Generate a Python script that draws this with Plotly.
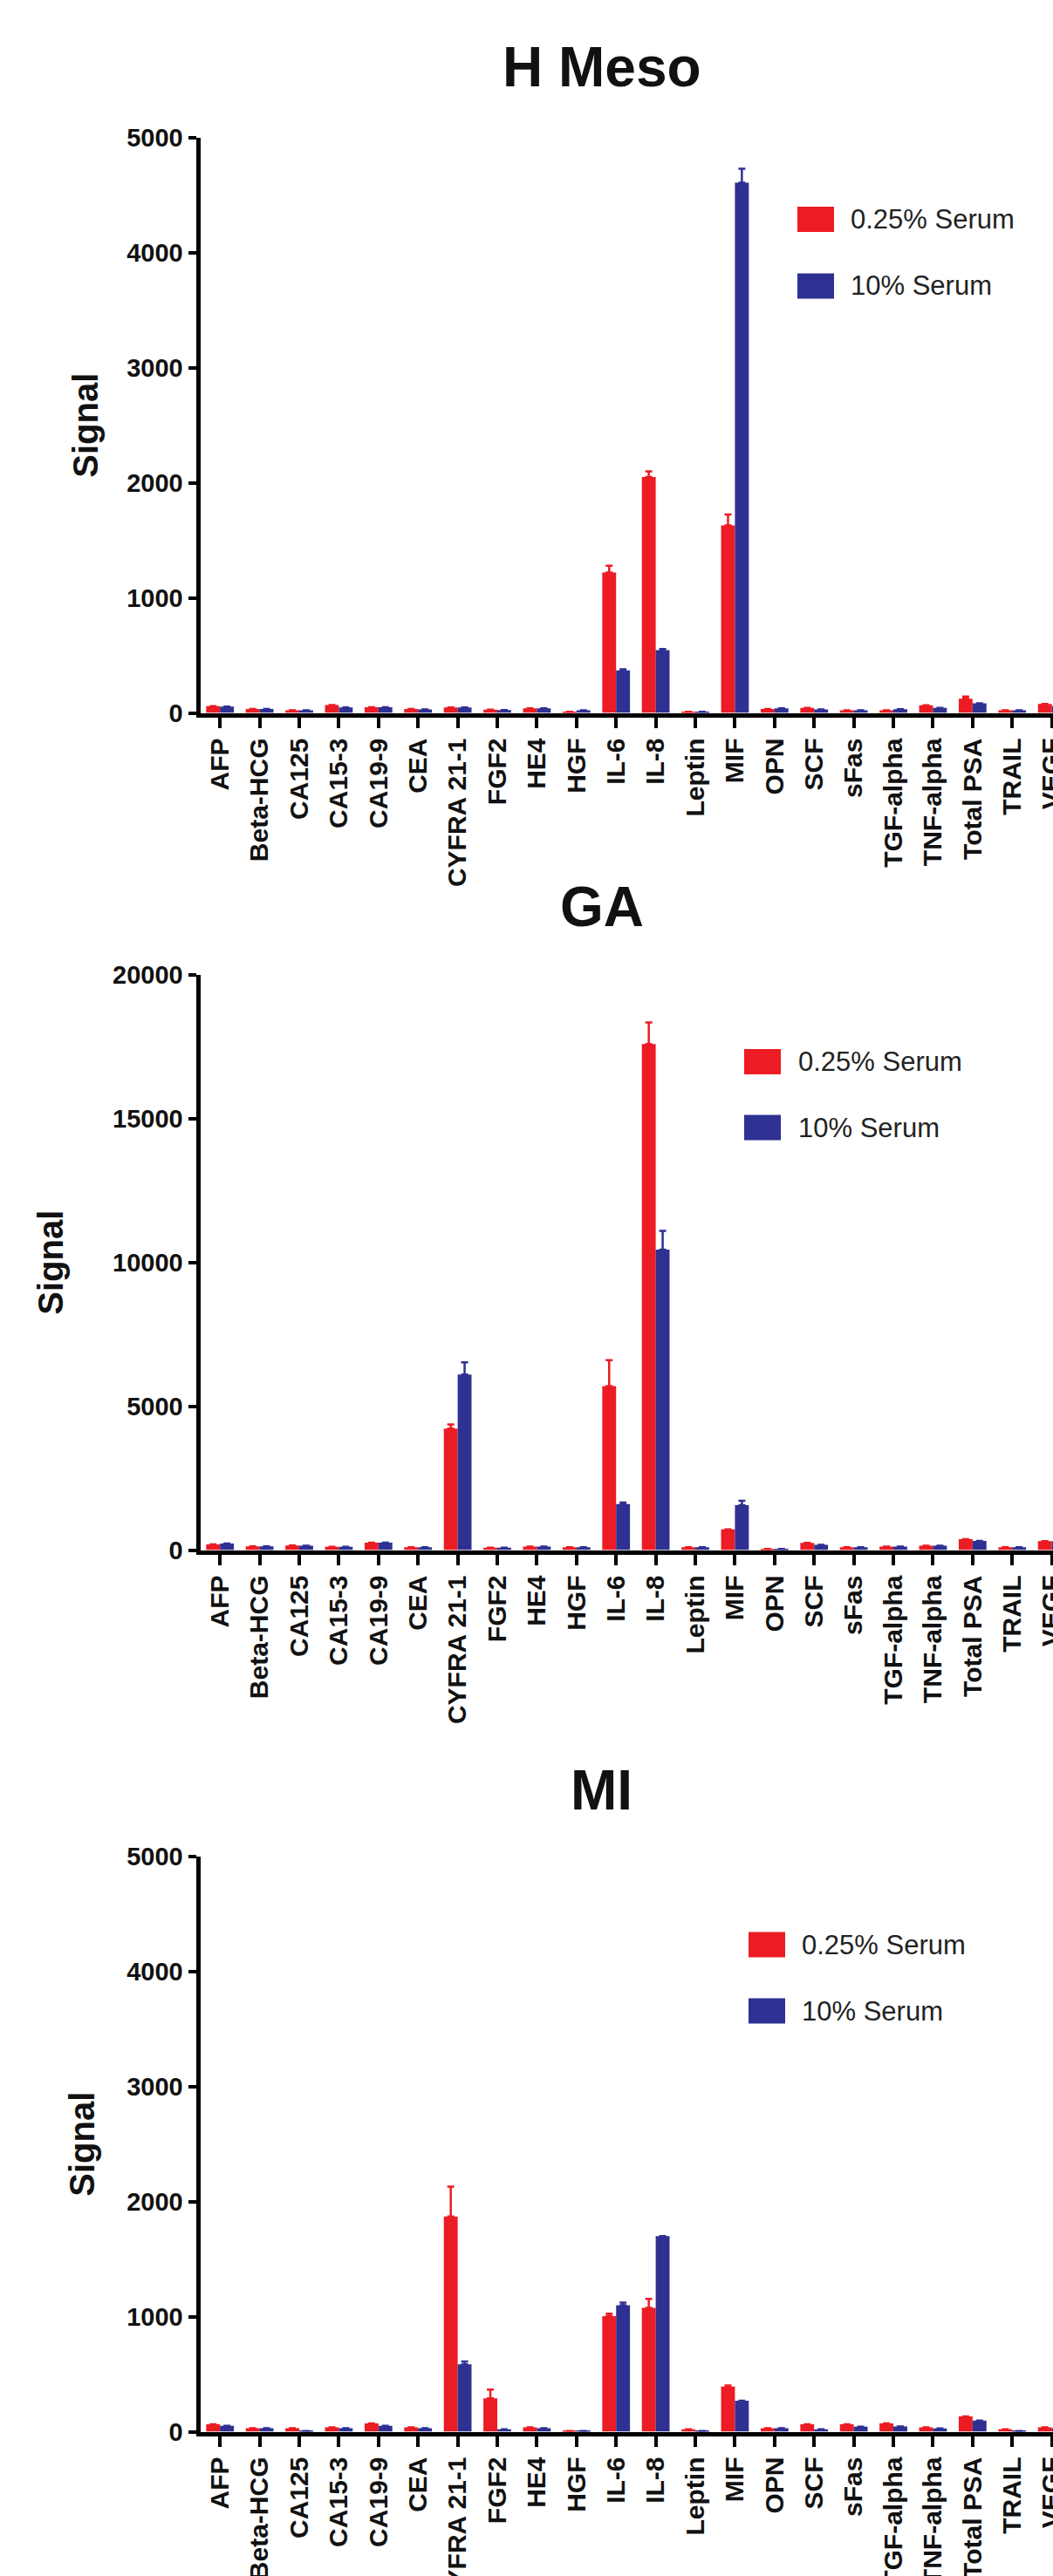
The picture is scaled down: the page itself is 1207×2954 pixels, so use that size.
import plotly.graph_objects as go

W, H = 1207, 2954

categories = ["AFP", "Beta-HCG", "CA125", "CA15-3", "CA19-9", "CEA", "CYFRA 21-1", "FGF2",
              "HE4", "HGF", "IL-6", "IL-8", "Leptin", "MIF", "OPN", "SCF", "sFas",
              "TGF-alpha", "TNF-alpha", "Total PSA", "TRAIL", "VEGF"]

series_names = ["0.25% Serum", "10% Serum"]

# H Meso
hmeso_low = [58, 35, 23, 68, 50, 35, 48, 29, 40, 10, 1220, 2050, 9, 1630, 35, 43, 23, 23, 66, 124, 23, 78]
hmeso_low_err = [0, 0, 0, 0, 0, 0, 0, 0, 0, 0, 60, 50, 0, 95, 0, 0, 0, 0, 0, 18, 0, 0]
hmeso_high = [55, 35, 23, 48, 50, 30, 48, 25, 40, 22, 370, 545, 9, 4610, 40, 30, 23, 32, 43, 84, 23, 60]
hmeso_high_err = [0, 0, 0, 0, 0, 0, 0, 0, 0, 0, 10, 10, 0, 120, 0, 0, 0, 0, 0, 0, 0, 0]

# GA
ga_low = [200, 130, 160, 110, 260, 100, 4220, 80, 120, 100, 5700, 17600, 100, 720, 40, 250, 100, 120, 150, 380, 100, 310]
ga_low_err = [0, 0, 0, 0, 0, 0, 150, 0, 0, 0, 900, 750, 0, 0, 0, 0, 0, 0, 0, 0, 0, 0]
ga_high = [230, 130, 150, 110, 260, 100, 6100, 80, 120, 100, 1600, 10450, 100, 1560, 40, 180, 100, 120, 150, 320, 100, 300]
ga_high_err = [0, 0, 0, 0, 0, 0, 430, 0, 0, 0, 50, 650, 0, 150, 0, 0, 0, 0, 0, 0, 0, 0]

# MI
mi_low = [64, 31, 31, 38, 72, 38, 1870, 290, 38, 5, 1005, 1077, 20, 392, 31, 64, 64, 72, 38, 133, 20, 38]
mi_low_err = [0, 0, 0, 0, 0, 0, 260, 75, 0, 0, 20, 77, 0, 10, 0, 0, 0, 0, 0, 0, 0, 0]
mi_high = [51, 31, 5, 31, 51, 31, 585, 20, 31, 5, 1100, 1700, 5, 270, 31, 20, 44, 46, 28, 97, 5, 30]
mi_high_err = [0, 0, 0, 0, 0, 0, 25, 0, 0, 0, 23, 0, 0, 0, 0, 0, 0, 0, 0, 0, 0, 0]

panel_titles = ["H Meso", "GA", "MI"]
y_ticks_small = [0, 1000, 2000, 3000, 4000, 5000]
y_ticks_large = [0, 5000, 10000, 15000, 20000]

RED = "#EC1C24"
BLUE = "#2E3192"
FONT = "Liberation Sans, Arial, sans-serif"

def px_x(p):
    return p / W

def px_y(p):
    return 1 - p / H

panels = [
    dict(title=panel_titles[0], low=hmeso_low, low_err=hmeso_low_err, high=hmeso_high, high_err=hmeso_high_err,
         ymax=5000, ticks=y_ticks_small, top=158, bottom=817.5, title_y=77, sig_x=98,
         leg_x=914, leg_y1=251.5, leg_y2=328, leg_tx=973),
    dict(title=panel_titles[1], low=ga_low, low_err=ga_low_err, high=ga_high, high_err=ga_high_err,
         ymax=20000, ticks=y_ticks_large, top=1118, bottom=1777.5, title_y=1040, sig_x=58,
         leg_x=853, leg_y1=1217.5, leg_y2=1293, leg_tx=913),
    dict(title=panel_titles[2], low=mi_low, low_err=mi_low_err, high=mi_high, high_err=mi_high_err,
         ymax=5000, ticks=y_ticks_small, top=2129, bottom=2788.5, title_y=2053, sig_x=94,
         leg_x=858, leg_y1=2230, leg_y2=2306, leg_tx=917),
]

fig = go.Figure()
annotations = []
shapes = []
layout_axes = {}

for i, p in enumerate(panels):
    k = "" if i == 0 else str(i + 1)
    xa, ya = "x" + k, "y" + k
    for vals, errs, color, name in [(p["low"], p["low_err"], RED, series_names[0]),
                                     (p["high"], p["high_err"], BLUE, series_names[1])]:
        fig.add_trace(go.Bar(
            x=categories, y=vals, name=name, marker=dict(color=color, line=dict(width=0)),
            xaxis=xa, yaxis=ya, showlegend=False,
            error_y=dict(type="data", symmetric=False, array=errs, arrayminus=[0] * len(errs),
                         color=color, thickness=2.5, width=4),
        ))
    layout_axes["xaxis" + k] = dict(
        domain=[px_x(229.5), 1], anchor=ya, type="category", range=[-0.5, 21.03],
        automargin=False,
        showline=True, linewidth=5, linecolor="black", ticks="outside", ticklen=12, tickwidth=4,
        tickcolor="black", tickangle=-90, showgrid=False, zeroline=False,
        tickfont=dict(family=FONT, size=30, color="#111111", weight="bold"),
    )
    layout_axes["yaxis" + k] = dict(
        domain=[px_y(p["bottom"]), px_y(p["top"])], anchor=xa, range=[0, p["ymax"]],
        automargin=False,
        showline=True, linewidth=5, linecolor="black", ticks="outside", ticklen=9, tickwidth=4,
        tickcolor="black", tickmode="array", tickvals=p["ticks"], ticktext=[str(t) for t in p["ticks"]],
        showgrid=False, zeroline=False,
        tickfont=dict(family=FONT, size=29, color="#111111", weight="bold"),
    )
    annotations.append(dict(text="<b>%s</b>" % p["title"], x=px_x(690), y=px_y(p["title_y"]),
                            xref="paper", yref="paper", xanchor="center", yanchor="middle",
                            showarrow=False, font=dict(family=FONT, size=64, color="#111111")))
    annotations.append(dict(text="<b>Signal</b>", x=px_x(p["sig_x"]), y=px_y((p["top"] + p["bottom"]) / 2),
                            xref="paper", yref="paper", xanchor="center", yanchor="middle",
                            textangle=-90, showarrow=False,
                            font=dict(family=FONT, size=40, color="#111111")))
    for yc, color, name in [(p["leg_y1"], RED, series_names[0]), (p["leg_y2"], BLUE, series_names[1])]:
        shapes.append(dict(type="rect", xref="paper", yref="paper",
                           x0=px_x(p["leg_x"]), x1=px_x(p["leg_x"] + 42),
                           y0=px_y(yc + 14.5), y1=px_y(yc - 14.5),
                           fillcolor=color, line=dict(width=0)))
        annotations.append(dict(text=name, x=px_x(p["leg_tx"]), y=px_y(yc), xref="paper", yref="paper",
                                xanchor="left", yanchor="middle", showarrow=False,
                                font=dict(family=FONT, size=31, color="#222222")))

fig.update_layout(
    width=W, height=H, margin=dict(l=0, r=0, t=0, b=0, autoexpand=False),
    paper_bgcolor="white", plot_bgcolor="white",
    barmode="group", bargap=0.3, bargroupgap=0,
    annotations=annotations, shapes=shapes, showlegend=False,
    font=dict(family=FONT),
    **layout_axes,
)

fig.write_html("out.html", config={"displayModeBar": False},
               post_script="document.body.style.margin='0';document.body.style.overflow='hidden';")
